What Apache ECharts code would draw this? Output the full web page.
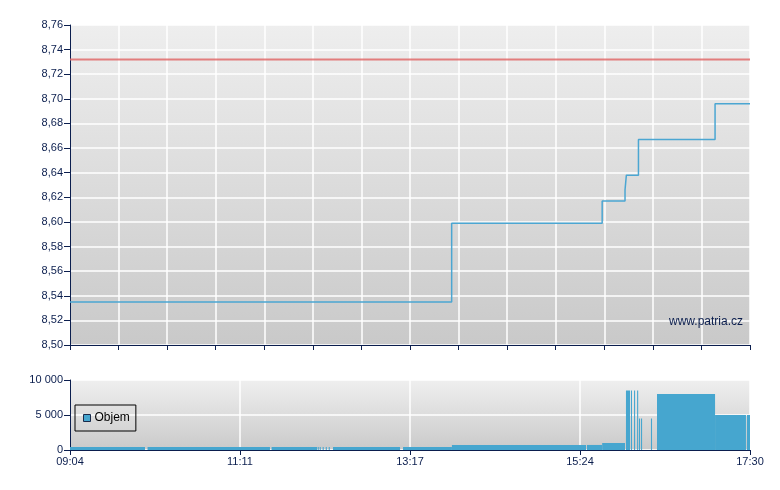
<!DOCTYPE html>
<html>
<head>
<meta charset="utf-8">
<script src="https://cdn.jsdelivr.net/npm/echarts@6/dist/echarts.min.js"></script>
<style>
html,body{margin:0;padding:0;background:#fff;}
#chart{width:780px;height:490px;}
</style>
</head>
<body>
<div id="chart"></div>
<script>
// Time axis: minutes since 09:04 (session 09:04 - 17:30)
var sessionStart = 9 * 60 + 4;
var sessionLength = 506;

// Price (step line) — change times (minutes since 09:04) and prices
var priceTimes  = [0, 284, 396, 413, 414, 423, 480, 506];
var priceValues = [8.535, 8.599, 8.617, 8.626, 8.638, 8.667, 8.696, 8.696];

// Reference (previous close) price
var refPrice = 8.732;

// Volume segments: start minute, end minute, volume
var volStart = [0, 57.7, 150, 184.3, 185.8, 188, 190.3, 192.5, 195.7, 247.8, 284.2, 384.7, 396, 413.7, 417.4, 419.7, 422, 423.4, 424.9, 432.3, 436.8, 480, 503.7];
var volEnd   = [55.8, 148.8, 183.8, 185.1, 186.6, 188.8, 191.1, 193.3, 245.6, 284.2, 384, 396, 413, 416.7, 418.2, 420.5, 422.8, 424.2, 425.7, 433.1, 480, 503, 506];
var volValue = [430, 430, 430, 430, 430, 430, 430, 430, 430, 430, 720, 720, 1000, 8500, 8500, 8500, 8500, 4500, 4500, 4500, 8000, 5000, 5000];

// Axis settings
var priceMin = 8.50, priceMax = 8.76, priceStep = 0.02;
var volMin = 0, volMax = 10000, volStepV = 5000;

var navy = '#0b1e4e';
var font = 'Liberation Sans';

function fmtTime(m){
  var t = Math.round(sessionStart + m);
  var h = Math.floor(t / 60), mm = t % 60;
  return (h < 10 ? '0' : '') + h + ':' + (mm < 10 ? '0' : '') + mm;
}

var chart = echarts.init(document.getElementById('chart'), null, {renderer:'canvas'});

function bg(top, bottom){
  return new echarts.graphic.LinearGradient(0,0,0,1,[{offset:0,color:top},{offset:1,color:bottom}]);
}

var priceData = priceTimes.map(function(t,i){ return [t, priceValues[i]]; });
var refData = [[0, refPrice], [sessionLength, refPrice]];
var volData = volStart.map(function(s,i){ return [s, volEnd[i], volValue[i]]; });

var volColor = '#46a6cf';

var option = {
  animation: false,
  backgroundColor: '#ffffff',
  textStyle: {fontFamily: font},
  grid: [
    {left: 70, right: 30, top: 25, height: 320, show: true, borderWidth: 0,
     backgroundColor: bg('#eeeeee', '#c9c9c9')},
    {left: 70, right: 30, top: 380, height: 70, show: true, borderWidth: 0,
     backgroundColor: bg('#efefef', '#cacaca')}
  ],
  legend: {
    data: [{name: 'Objem', icon: 'rect'}],
    left: 75, top: 405,
    orient: 'horizontal',
    padding: [7, 6, 7, 8],
    itemWidth: 7, itemHeight: 7, itemGap: 5,
    borderColor: '#000', borderWidth: 1,
    backgroundColor: 'rgba(0,0,0,0)',
    itemStyle: {borderColor: '#1a2a4a', borderWidth: 1},
    textStyle: {fontSize: 12, color: '#000', fontFamily: font, padding: [0,0,0,-1]}
  },
  xAxis: [
    {type: 'value', gridIndex: 0, min: 0, max: sessionLength, interval: sessionLength / 14,
     axisLine: {show: true, onZero: false, lineStyle: {color: navy, width: 1}},
     axisTick: {show: true, length: 5, lineStyle: {color: navy}},
     axisLabel: {show: false},
     splitLine: {show: true, lineStyle: {color: '#ffffff', width: 1.5}}},
    {type: 'value', gridIndex: 1, min: 0, max: sessionLength, interval: sessionLength / 4,
     axisLine: {show: true, onZero: false, lineStyle: {color: navy, width: 1}},
     axisTick: {show: true, length: 5, lineStyle: {color: navy}},
     axisLabel: {show: true, color: navy, fontSize: 11, fontFamily: font, margin: 6,
       formatter: function(v){ return fmtTime(v); }},
     splitLine: {show: true, lineStyle: {color: '#ffffff', width: 1.5}}}
  ],
  yAxis: [
    {type: 'value', gridIndex: 0, min: priceMin, max: priceMax, interval: priceStep,
     axisLine: {show: true, lineStyle: {color: navy, width: 1}},
     axisTick: {show: true, length: 6, lineStyle: {color: navy}},
     axisLabel: {color: navy, fontSize: 11, fontFamily: font, margin: 7,
       formatter: function(v){ return v.toFixed(2).replace('.', ','); }},
     splitLine: {show: true, lineStyle: {color: '#ffffff', width: 1.5}}},
    {type: 'value', gridIndex: 1, min: volMin, max: volMax, interval: volStepV,
     axisLine: {show: true, lineStyle: {color: navy, width: 1}},
     axisTick: {show: true, length: 6, lineStyle: {color: navy}},
     axisLabel: {color: navy, fontSize: 11, fontFamily: font, margin: 7,
       formatter: function(v){ return String(v).replace(/\B(?=(\d{3})+(?!\d))/g, ' '); }},
     splitLine: {show: true, lineStyle: {color: '#ffffff', width: 1.5}}}
  ],
  graphic: [
    {type: 'text', right: 37, top: 316, z: 10,
     style: {text: 'www.patria.cz', font: '12px "Liberation Sans"', fill: navy}}
  ],
  series: [
    {name: 'Reference', type: 'line', xAxisIndex: 0, yAxisIndex: 0, data: refData,
     showSymbol: false, silent: true,
     lineStyle: {color: '#e06a6a', width: 2, opacity: 0.85}},
    {name: 'Cena', type: 'line', xAxisIndex: 0, yAxisIndex: 0, data: priceData,
     step: 'end', showSymbol: false, silent: true,
     lineStyle: {color: '#4ba6d2', width: 1.5}},
    {name: 'Objem', type: 'custom', xAxisIndex: 1, yAxisIndex: 1, data: volData,
     encode: {x: [0, 1], y: 2},
     itemStyle: {color: volColor},
     renderItem: function(params, api){
       var s = api.value(0), e = api.value(1), v = api.value(2);
       var p0 = api.coord([s, v]);
       var p1 = api.coord([e, 0]);
       return {type: 'rect',
         shape: {x: p0[0], y: p0[1], width: Math.max(1, p1[0] - p0[0]), height: p1[1] - p0[1]},
         style: {fill: volColor}};
     }}
  ]
};
chart.setOption(option);
</script>
</body>
</html>
